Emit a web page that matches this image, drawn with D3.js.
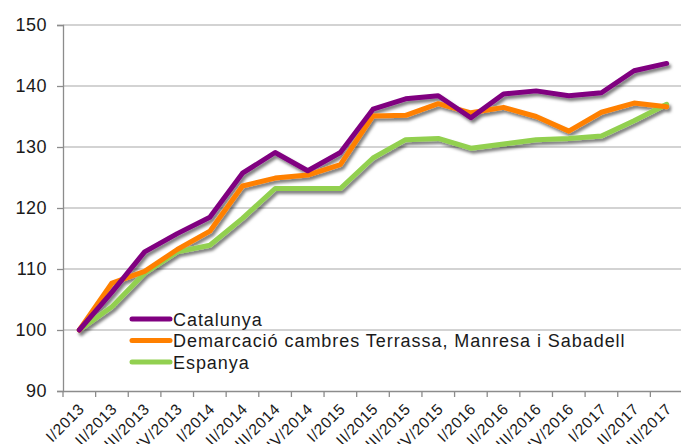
<!DOCTYPE html>
<html>
<head>
<meta charset="utf-8">
<script src="https://cdn.jsdelivr.net/npm/d3@7"></script>
<style>
  body { margin: 0; background: #fff; }
  text { font-family: "Liberation Sans", Arial, sans-serif; fill: #1a1a1a; }
</style>
</head>
<body>
<div id="chart"></div>
<script>
var svgWidth = 681;
var svgHeight = 444;

var quarters = ["I/2013", "II/2013", "III/2013", "IV/2013", "I/2014", "II/2014", "III/2014", "IV/2014",
    "I/2015", "II/2015", "III/2015", "IV/2015", "I/2016", "II/2016", "III/2016", "IV/2016",
    "I/2017", "II/2017", "III/2017"];

var catalunya = [100, 106.2, 112.8, 115.8, 118.5, 125.7, 129.1, 126.1, 129.1, 136.2,
    137.9, 138.4, 134.8, 138.7, 139.2, 138.4, 138.9, 142.5, 143.7];
var demarcacio = [100, 107.7, 109.6, 113.2, 116.2, 123.6, 124.9, 125.4, 127.1, 135.1,
    135.2, 137.1, 135.6, 136.5, 135.0, 132.6, 135.7, 137.2, 136.6];
var espanya = [100, 103.8, 109.3, 112.8, 113.9, 118.3, 123.2, 123.2, 123.2, 128.2,
    131.2, 131.4, 129.8, 130.5, 131.2, 131.4, 131.8, 134.3, 137.0];

var yTicks = [90, 100, 110, 120, 130, 140, 150];

var series = [
    { name: "Catalunya", values: catalunya, color: "#800080" },
    { name: "Demarcació cambres Terrassa, Manresa i Sabadell", values: demarcacio, color: "#ff8000" },
    { name: "Espanya", values: espanya, color: "#92d050" }
];

var margin = { top: 25, right: -2, bottom: 53, left: 63 };
var chartWidth = svgWidth - margin.left - margin.right;
var chartHeight = svgHeight - margin.top - margin.bottom;

var svg = d3.select("#chart")
    .append("svg")
    .attr("width", svgWidth)
    .attr("height", svgHeight);

var defs = svg.append("defs");
var shadow = defs.append("filter")
    .attr("id", "shadow")
    .attr("x", "-10%").attr("y", "-10%")
    .attr("width", "120%").attr("height", "120%");
shadow.append("feDropShadow")
    .attr("dx", 2).attr("dy", 3)
    .attr("stdDeviation", 1.8)
    .attr("flood-color", "#000")
    .attr("flood-opacity", 0.5);

var chartGroup = svg.append("g")
    .attr("transform", `translate(${margin.left}, ${margin.top})`);

var xScale = d3.scaleBand()
    .domain(quarters)
    .range([0, chartWidth]);

var yScale = d3.scaleLinear()
    .domain([90, 150])
    .range([chartHeight, 0]);

// gridlines
chartGroup.append("g")
    .selectAll("line")
    .data(yTicks.slice(1))
    .enter()
    .append("line")
    .attr("x1", 0)
    .attr("x2", chartWidth)
    .attr("y1", d => yScale(d))
    .attr("y2", d => yScale(d))
    .attr("stroke", "#c4c4c4")
    .attr("stroke-width", 1.3);

// y axis
var leftAxis = d3.axisLeft(yScale)
    .tickValues(yTicks)
    .tickSize(6)
    .tickPadding(10);

var yAxisG = chartGroup.append("g").call(leftAxis);
yAxisG.select(".domain").attr("stroke", "#8c8c8c").attr("stroke-width", 1.3);
yAxisG.selectAll(".tick line").attr("stroke", "#8c8c8c").attr("stroke-width", 1.3);
yAxisG.selectAll(".tick text")
    .style("font-size", "18px")
    .style("letter-spacing", "0.5px")
    .attr("fill", "#1a1a1a");

// x axis
var bottomAxis = d3.axisBottom(xScale)
    .tickSize(0)
    .tickFormat("");

var xAxisG = chartGroup.append("g")
    .attr("transform", `translate(0, ${chartHeight})`)
    .call(bottomAxis);
xAxisG.select(".domain").attr("stroke", "#8c8c8c").attr("stroke-width", 1.3);

xAxisG.selectAll("line.sep")
    .data(quarters)
    .enter()
    .append("line")
    .attr("class", "sep")
    .attr("x1", d => xScale(d))
    .attr("x2", d => xScale(d))
    .attr("y1", 0)
    .attr("y2", 6)
    .attr("stroke", "#8c8c8c")
    .attr("stroke-width", 1.3);

xAxisG.selectAll("text.qlabel")
    .data(quarters)
    .enter()
    .append("text")
    .attr("class", "qlabel")
    .attr("text-anchor", "end")
    .attr("transform", d => `translate(${xScale(d) + xScale.bandwidth() / 2 + 6}, 19) rotate(-45)`)
    .style("font-size", "15.5px")
    .style("letter-spacing", "0.6px")
    .text(d => d);

// lines
var line = d3.line()
    .x((d, i) => xScale(quarters[i]) + xScale.bandwidth() / 2)
    .y(d => yScale(d));

var linesGroup = chartGroup.append("g").attr("filter", "url(#shadow)");

series.slice().reverse().forEach(s => {
    linesGroup.append("path")
        .datum(s.values)
        .attr("d", line)
        .attr("fill", "none")
        .attr("stroke", s.color)
        .attr("stroke-width", 5)
        .attr("stroke-linejoin", "round")
        .attr("stroke-linecap", "round");
});

// legend
var legend = svg.append("g")
    .attr("transform", "translate(130, 319)");

series.forEach((s, i) => {
    var row = legend.append("g")
        .attr("transform", `translate(0, ${i * 21.5})`);
    row.append("line")
        .attr("x1", 2)
        .attr("x2", 40)
        .attr("stroke", s.color)
        .attr("stroke-width", 5)
        .attr("stroke-linecap", "round");
    row.append("text")
        .attr("x", 43)
        .attr("y", 6.5)
        .style("font-size", "18px")
        .style("letter-spacing", "0.95px")
        .text(s.name);
});
</script>
</body>
</html>
